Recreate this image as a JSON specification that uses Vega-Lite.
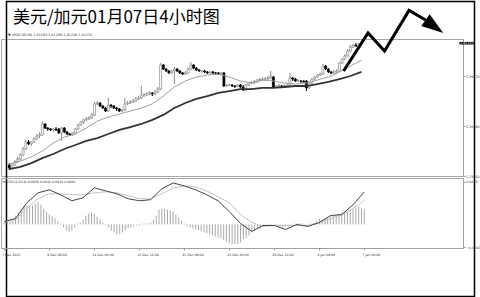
{
"$schema": "https://vega.github.io/schema/vega-lite/v6.json",
"padding": 0,
"background": "white",
"bounds": "flush",
"spacing": 2,
"config": {"view": {"stroke": "#a8a8a8", "strokeWidth": 1}, "axis": {"labelFont": "DejaVu Sans", "grid": false}},
"datasets": {
"candles": [
{"i":0,"o":1.3369,"h":1.3381,"l":1.3338,"c":1.3350,"hist":0.00036},
{"i":1,"o":1.3350,"h":1.3375,"l":1.3344,"c":1.3369,"hist":0.00036},
{"i":2,"o":1.3369,"h":1.3400,"l":1.3363,"c":1.3388,"hist":0.00054},
{"i":3,"o":1.3388,"h":1.3419,"l":1.3381,"c":1.3406,"hist":0.00072},
{"i":4,"o":1.3406,"h":1.3443,"l":1.3400,"c":1.3431,"hist":0.00163},
{"i":5,"o":1.3431,"h":1.3480,"l":1.3425,"c":1.3468,"hist":0.00217},
{"i":6,"o":1.3468,"h":1.3524,"l":1.3462,"c":1.3511,"hist":0.0029},
{"i":7,"o":1.3511,"h":1.3524,"l":1.3493,"c":1.3499,"hist":0.00326},
{"i":8,"o":1.3499,"h":1.3518,"l":1.3487,"c":1.3511,"hist":0.00326},
{"i":9,"o":1.3511,"h":1.3542,"l":1.3505,"c":1.3530,"hist":0.00326},
{"i":10,"o":1.3530,"h":1.3561,"l":1.3524,"c":1.3549,"hist":0.00344},
{"i":11,"o":1.3549,"h":1.3573,"l":1.3536,"c":1.3555,"hist":0.0038},
{"i":12,"o":1.3555,"h":1.3641,"l":1.3549,"c":1.3623,"hist":0.00416},
{"i":13,"o":1.3623,"h":1.3629,"l":1.3592,"c":1.3598,"hist":0.00362},
{"i":14,"o":1.3598,"h":1.3604,"l":1.3580,"c":1.3592,"hist":0.0029},
{"i":15,"o":1.3592,"h":1.3598,"l":1.3580,"c":1.3586,"hist":0.00235},
{"i":16,"o":1.3586,"h":1.3598,"l":1.3573,"c":1.3592,"hist":0.00181},
{"i":17,"o":1.3592,"h":1.3604,"l":1.3580,"c":1.3586,"hist":0.00145},
{"i":18,"o":1.3592,"h":1.3598,"l":1.3561,"c":1.3567,"hist":0.00109},
{"i":19,"o":1.3567,"h":1.3604,"l":1.3518,"c":1.3598,"hist":0.00054},
{"i":20,"o":1.3598,"h":1.3604,"l":1.3567,"c":1.3573,"hist":0.00018},
{"i":21,"o":1.3573,"h":1.3580,"l":1.3555,"c":1.3561,"hist":-0.00054},
{"i":22,"o":1.3561,"h":1.3567,"l":1.3549,"c":1.3555,"hist":-0.00109},
{"i":23,"o":1.3555,"h":1.3573,"l":1.3549,"c":1.3567,"hist":-0.00127},
{"i":24,"o":1.3567,"h":1.3598,"l":1.3561,"c":1.3592,"hist":-0.00109},
{"i":25,"o":1.3592,"h":1.3623,"l":1.3586,"c":1.3617,"hist":-0.00054},
{"i":26,"o":1.3617,"h":1.3641,"l":1.3610,"c":1.3635,"hist":0.00018},
{"i":27,"o":1.3635,"h":1.3654,"l":1.3623,"c":1.3648,"hist":0.00036},
{"i":28,"o":1.3648,"h":1.3666,"l":1.3641,"c":1.3654,"hist":0.00091},
{"i":29,"o":1.3654,"h":1.3672,"l":1.3648,"c":1.3660,"hist":0.00163},
{"i":30,"o":1.3660,"h":1.3691,"l":1.3654,"c":1.3679,"hist":0.00199},
{"i":31,"o":1.3679,"h":1.3759,"l":1.3672,"c":1.3747,"hist":0.00217},
{"i":32,"o":1.3747,"h":1.3765,"l":1.3740,"c":1.3753,"hist":0.00199},
{"i":33,"o":1.3753,"h":1.3759,"l":1.3728,"c":1.3734,"hist":0.00145},
{"i":34,"o":1.3734,"h":1.3740,"l":1.3716,"c":1.3722,"hist":0.00091},
{"i":35,"o":1.3722,"h":1.3728,"l":1.3697,"c":1.3703,"hist":0.00036},
{"i":36,"o":1.3703,"h":1.3784,"l":1.3697,"c":1.3740,"hist":-0.00018},
{"i":37,"o":1.3740,"h":1.3747,"l":1.3722,"c":1.3734,"hist":-0.00054},
{"i":38,"o":1.3734,"h":1.3740,"l":1.3716,"c":1.3722,"hist":-0.00109},
{"i":39,"o":1.3722,"h":1.3728,"l":1.3703,"c":1.3716,"hist":-0.00145},
{"i":40,"o":1.3716,"h":1.3722,"l":1.3697,"c":1.3703,"hist":-0.00181},
{"i":41,"o":1.3703,"h":1.3716,"l":1.3697,"c":1.3710,"hist":-0.00163},
{"i":42,"o":1.3710,"h":1.3784,"l":1.3703,"c":1.3747,"hist":-0.00145},
{"i":43,"o":1.3747,"h":1.3765,"l":1.3740,"c":1.3753,"hist":-0.00109},
{"i":44,"o":1.3753,"h":1.3771,"l":1.3747,"c":1.3759,"hist":-0.00072},
{"i":45,"o":1.3759,"h":1.3778,"l":1.3753,"c":1.3765,"hist":-0.00054},
{"i":46,"o":1.3765,"h":1.3790,"l":1.3759,"c":1.3778,"hist":-0.00036},
{"i":47,"o":1.3778,"h":1.3796,"l":1.3771,"c":1.3784,"hist":-0.00018},
{"i":48,"o":1.3784,"h":1.3858,"l":1.3778,"c":1.3802,"hist":-0.00018},
{"i":49,"o":1.3802,"h":1.3815,"l":1.3790,"c":1.3805,"hist":0.00018},
{"i":50,"o":1.3802,"h":1.3821,"l":1.3796,"c":1.3809,"hist":0.00018},
{"i":51,"o":1.3809,"h":1.3827,"l":1.3802,"c":1.3815,"hist":0.00018},
{"i":52,"o":1.3815,"h":1.3821,"l":1.3796,"c":1.3809,"hist":0.00036},
{"i":53,"o":1.3809,"h":1.3833,"l":1.3802,"c":1.3821,"hist":0.00091},
{"i":54,"o":1.3821,"h":1.3852,"l":1.3815,"c":1.3839,"hist":0.00163},
{"i":55,"o":1.3839,"h":1.4000,"l":1.3833,"c":1.3988,"hist":0.00272},
{"i":56,"o":1.3988,"h":1.3994,"l":1.3957,"c":1.3963,"hist":0.0029},
{"i":57,"o":1.3963,"h":1.3969,"l":1.3945,"c":1.3951,"hist":0.0029},
{"i":58,"o":1.3951,"h":1.3957,"l":1.3932,"c":1.3939,"hist":0.00272},
{"i":59,"o":1.3939,"h":1.3957,"l":1.3932,"c":1.3951,"hist":0.00253},
{"i":60,"o":1.3951,"h":1.3976,"l":1.3870,"c":1.3963,"hist":0.00235},
{"i":61,"o":1.3963,"h":1.3969,"l":1.3945,"c":1.3951,"hist":0.00181},
{"i":62,"o":1.3951,"h":1.3957,"l":1.3932,"c":1.3939,"hist":0.00127},
{"i":63,"o":1.3939,"h":1.3945,"l":1.3926,"c":1.3932,"hist":0.00072},
{"i":64,"o":1.3932,"h":1.3951,"l":1.3926,"c":1.3939,"hist":0.00018},
{"i":65,"o":1.3939,"h":1.3969,"l":1.3932,"c":1.3963,"hist":-0.00036},
{"i":66,"o":1.3963,"h":1.4007,"l":1.3957,"c":1.3988,"hist":-0.00054},
{"i":67,"o":1.3988,"h":1.3994,"l":1.3963,"c":1.3969,"hist":-0.00072},
{"i":68,"o":1.3969,"h":1.3976,"l":1.3951,"c":1.3957,"hist":-0.00091},
{"i":69,"o":1.3957,"h":1.3963,"l":1.3945,"c":1.3951,"hist":-0.00109},
{"i":70,"o":1.3951,"h":1.3957,"l":1.3939,"c":1.3953,"hist":-0.00127},
{"i":71,"o":1.3951,"h":1.3957,"l":1.3939,"c":1.3945,"hist":-0.00145},
{"i":72,"o":1.3945,"h":1.3951,"l":1.3932,"c":1.3939,"hist":-0.00163},
{"i":73,"o":1.3939,"h":1.3951,"l":1.3932,"c":1.3945,"hist":-0.00181},
{"i":74,"o":1.3945,"h":1.3951,"l":1.3926,"c":1.3939,"hist":-0.00199},
{"i":75,"o":1.3939,"h":1.3945,"l":1.3926,"c":1.3937,"hist":-0.00217},
{"i":76,"o":1.3939,"h":1.3945,"l":1.3926,"c":1.3932,"hist":-0.00235},
{"i":77,"o":1.3932,"h":1.3945,"l":1.3926,"c":1.3939,"hist":-0.00253},
{"i":78,"o":1.3939,"h":1.3945,"l":1.3852,"c":1.3858,"hist":-0.0029},
{"i":79,"o":1.3858,"h":1.3870,"l":1.3852,"c":1.3864,"hist":-0.00326},
{"i":80,"o":1.3864,"h":1.3870,"l":1.3858,"c":1.3866,"hist":-0.00344},
{"i":81,"o":1.3864,"h":1.3870,"l":1.3852,"c":1.3858,"hist":-0.00362},
{"i":82,"o":1.3858,"h":1.3864,"l":1.3846,"c":1.3856,"hist":-0.00362},
{"i":83,"o":1.3858,"h":1.3870,"l":1.3852,"c":1.3864,"hist":-0.00362},
{"i":84,"o":1.3864,"h":1.3870,"l":1.3846,"c":1.3852,"hist":-0.00326},
{"i":85,"o":1.3852,"h":1.3864,"l":1.3827,"c":1.3833,"hist":-0.00272},
{"i":86,"o":1.3833,"h":1.3870,"l":1.3827,"c":1.3864,"hist":-0.00253},
{"i":87,"o":1.3864,"h":1.3883,"l":1.3858,"c":1.3877,"hist":-0.00199},
{"i":88,"o":1.3877,"h":1.3889,"l":1.3870,"c":1.3879,"hist":-0.00145},
{"i":89,"o":1.3877,"h":1.3895,"l":1.3870,"c":1.3883,"hist":-0.00109},
{"i":90,"o":1.3883,"h":1.3901,"l":1.3877,"c":1.3895,"hist":-0.00091},
{"i":91,"o":1.3895,"h":1.3908,"l":1.3883,"c":1.3897,"hist":-0.00072},
{"i":92,"o":1.3895,"h":1.3914,"l":1.3889,"c":1.3901,"hist":-0.00054},
{"i":93,"o":1.3901,"h":1.3914,"l":1.3889,"c":1.3903,"hist":-0.00036},
{"i":94,"o":1.3901,"h":1.3920,"l":1.3895,"c":1.3908,"hist":-0.00036},
{"i":95,"o":1.3908,"h":1.3951,"l":1.3901,"c":1.3920,"hist":-0.00018},
{"i":96,"o":1.3914,"h":1.3920,"l":1.3846,"c":1.3852,"hist":-0.00018},
{"i":97,"o":1.3852,"h":1.3864,"l":1.3846,"c":1.3858,"hist":-0.00036},
{"i":98,"o":1.3858,"h":1.3870,"l":1.3852,"c":1.3860,"hist":-0.00054},
{"i":99,"o":1.3858,"h":1.3864,"l":1.3846,"c":1.3856,"hist":-0.00054},
{"i":100,"o":1.3858,"h":1.3870,"l":1.3852,"c":1.3860,"hist":-0.00036},
{"i":101,"o":1.3858,"h":1.3877,"l":1.3852,"c":1.3864,"hist":-0.00036},
{"i":102,"o":1.3864,"h":1.3939,"l":1.3858,"c":1.3908,"hist":-0.00018},
{"i":103,"o":1.3908,"h":1.3914,"l":1.3889,"c":1.3901,"hist":0.00018},
{"i":104,"o":1.3901,"h":1.3908,"l":1.3883,"c":1.3889,"hist":0.00018},
{"i":105,"o":1.3889,"h":1.3901,"l":1.3883,"c":1.3891,"hist":0.00018},
{"i":106,"o":1.3889,"h":1.3895,"l":1.3877,"c":1.3887,"hist":0.00018},
{"i":107,"o":1.3889,"h":1.3895,"l":1.3877,"c":1.3883,"hist":-0.00018},
{"i":108,"o":1.3889,"h":1.3895,"l":1.3827,"c":1.3846,"hist":-0.00018},
{"i":109,"o":1.3846,"h":1.3883,"l":1.3839,"c":1.3877,"hist":0.00018},
{"i":110,"o":1.3877,"h":1.3908,"l":1.3870,"c":1.3901,"hist":0.00036},
{"i":111,"o":1.3901,"h":1.3920,"l":1.3895,"c":1.3914,"hist":0.00072},
{"i":112,"o":1.3914,"h":1.3932,"l":1.3908,"c":1.3926,"hist":0.00109},
{"i":113,"o":1.3926,"h":1.3939,"l":1.3920,"c":1.3932,"hist":0.00091},
{"i":114,"o":1.3932,"h":1.3994,"l":1.3926,"c":1.3982,"hist":0.00109},
{"i":115,"o":1.3982,"h":1.3988,"l":1.3957,"c":1.3963,"hist":0.00127},
{"i":116,"o":1.3963,"h":1.3969,"l":1.3939,"c":1.3945,"hist":0.00145},
{"i":117,"o":1.3945,"h":1.3951,"l":1.3932,"c":1.3939,"hist":0.00163},
{"i":118,"o":1.3939,"h":1.3957,"l":1.3932,"c":1.3945,"hist":0.00181},
{"i":119,"o":1.3945,"h":1.3963,"l":1.3939,"c":1.3951,"hist":0.00199},
{"i":120,"o":1.3951,"h":1.4007,"l":1.3945,"c":1.4000,"hist":0.00217},
{"i":121,"o":1.4000,"h":1.4031,"l":1.3994,"c":1.4025,"hist":0.00235},
{"i":122,"o":1.4025,"h":1.4056,"l":1.4019,"c":1.4044,"hist":0.00253},
{"i":123,"o":1.4044,"h":1.4087,"l":1.4038,"c":1.4075,"hist":0.00272},
{"i":124,"o":1.4075,"h":1.4112,"l":1.4069,"c":1.4099,"hist":0.0029},
{"i":125,"o":1.4099,"h":1.4118,"l":1.4093,"c":1.4112,"hist":0.00308},
{"i":126,"o":1.4112,"h":1.4124,"l":1.4099,"c":1.4106,"hist":0.00326},
{"i":127,"o":1.4106,"h":1.4124,"l":1.4093,"c":1.4118,"hist":0.0029},
{"i":128,"o":1.4118,"h":1.4126,"l":1.4110,"c":1.4123,"hist":0.00272}
],
"lines": [
{"i":0,"f":1.3375,"w":1.3344,"m":0.00054,"s":0.00054},
{"i":4,"f":1.3394,"w":1.3357,"m":0.00109,"s":0.00091},
{"i":8,"f":1.3419,"w":1.3381,"m":0.00398,"s":0.0029},
{"i":12,"f":1.3456,"w":1.3412,"m":0.00579,"s":0.00471},
{"i":16,"f":1.3505,"w":1.3437,"m":0.00634,"s":0.00561},
{"i":20,"f":1.3542,"w":1.3468,"m":0.00543,"s":0.00561},
{"i":24,"f":1.3561,"w":1.3493,"m":0.00434,"s":0.00543},
{"i":28,"f":1.3598,"w":1.3518,"m":0.00489,"s":0.00543},
{"i":32,"f":1.3641,"w":1.3536,"m":0.0067,"s":0.00579},
{"i":36,"f":1.3666,"w":1.3561,"m":0.00615,"s":0.00597},
{"i":40,"f":1.3685,"w":1.3586,"m":0.00561,"s":0.00579},
{"i":44,"f":1.3703,"w":1.3604,"m":0.00471,"s":0.00525},
{"i":48,"f":1.3722,"w":1.3623,"m":0.00434,"s":0.00471},
{"i":52,"f":1.3747,"w":1.3648,"m":0.00453,"s":0.00471},
{"i":56,"f":1.3796,"w":1.3679,"m":0.00652,"s":0.00561},
{"i":60,"f":1.3852,"w":1.3722,"m":0.0076,"s":0.0067},
{"i":64,"f":1.3889,"w":1.3753,"m":0.00706,"s":0.00706},
{"i":68,"f":1.3914,"w":1.3778,"m":0.00634,"s":0.00688},
{"i":72,"f":1.3926,"w":1.3796,"m":0.00543,"s":0.00615},
{"i":76,"f":1.3932,"w":1.3815,"m":0.00434,"s":0.00507},
{"i":80,"f":1.3914,"w":1.3827,"m":0.00235,"s":0.00398},
{"i":84,"f":1.3889,"w":1.3839,"m":0.00018,"s":0.00181},
{"i":88,"f":1.3877,"w":1.3839,"m":-0.00127,"s":0.00036},
{"i":92,"f":1.3895,"w":1.3846,"m":-0.00018,"s":-0.00036},
{"i":96,"f":1.3889,"w":1.3846,"m":-0.00018,"s":-0.00018},
{"i":100,"f":1.3877,"w":1.3852,"m":-0.00091,"s":-0.00018},
{"i":104,"f":1.3870,"w":1.3858,"m":0,"s":-0.00018},
{"i":108,"f":1.3877,"w":1.3858,"m":-0.00036,"s":-0.00018},
{"i":112,"f":1.3895,"w":1.3870,"m":0.00036,"s":0.00036},
{"i":116,"f":1.3914,"w":1.3883,"m":0.00163,"s":0.00109},
{"i":120,"f":1.3945,"w":1.3901,"m":0.00181,"s":0.00181},
{"i":124,"f":1.3982,"w":1.3920,"m":0.00362,"s":0.0029},
{"i":128,"f":1.4019,"w":1.3945,"m":0.00597,"s":0.00434}
],
"arrow": [
{"k":0,"ax":121.5,"ay":1.3951},
{"k":1,"ax":130.4,"ay":1.4186},
{"k":2,"ax":136.4,"ay":1.4075},
{"k":3,"ax":145.3,"ay":1.4326},
{"k":4,"ax":151.3,"ay":1.4267}
],
"head": [{"ax":154.5,"ay":1.4226}],
"bid": [{"x1":163.6,"x2":169.2,"y1":1.4115,"y2":1.4131,"ym":1.4123,"t":"1.41232"}],
"frame": [{"x1":-1.02,"x2":169.1,"y1":1.4381,"y2":1.2555}],
"texts": [
{"x":1.3,"y":1.4329,"t":"美元/加元01月07日4小时图","kind":"title"},
{"x":-0.5,"y":1.4160,"t":"▼ USDCAD,H4  1.41243 1.41256 1.41248 1.41232","kind":"header"}
],
"macdlabel": [{"x":-1.2,"y":0.0085,"t":"MACD(12,26,9) 0.0058 0.0046 0.0024 0.0000"}]
},
"vconcat": [
{
"width": 462, "height": 137,
"layer": [
{"data": {"name": "frame"}, "mark": {"type": "rect", "fill": "#ffffff", "fillOpacity": 0, "stroke": "#000000", "strokeWidth": 1.5, "clip": false},
 "encoding": {
  "x": {"field": "x1", "type": "quantitative", "scale": {"domain": [-1.2, 163.1], "nice": false}, "axis": null},
  "x2": {"field": "x2"},
  "y": {"field": "y1", "type": "quantitative", "scale": {"domain": [1.3301, 1.4149], "nice": false, "zero": false},
        "axis": {"orient": "right", "title": null, "values": [1.4149, 1.4075, 1.3996, 1.3917, 1.3841, 1.3763, 1.3687, 1.3609, 1.3531, 1.3455, 1.3377, 1.3301], "format": ".5f", "labelFontSize": 3.3, "labelColor": "#333", "tickSize": 2, "tickColor": "#999", "domainColor": "#a0a0a0", "labelPadding": 0.5, "labelFlush": false, "labelOverlap": false}},
  "y2": {"field": "y2"}
 }},
{"data": {"name": "candles"}, "mark": {"type": "rule", "strokeWidth": 1},
 "encoding": {
  "x": {"field": "i", "type": "quantitative", "scale": {"domain": [-1.2, 163.1], "nice": false}},
  "y": {"field": "l", "type": "quantitative", "scale": {"domain": [1.3301, 1.4149], "nice": false, "zero": false}},
  "y2": {"field": "h"},
  "color": {"condition": {"test": "datum.c < datum.o", "value": "#000000"}, "value": "#8a8a8a"}
 }},
{"data": {"name": "candles"}, "mark": {"type": "bar", "size": 2, "strokeWidth": 0.7},
 "encoding": {
  "x": {"field": "i", "type": "quantitative", "scale": {"domain": [-1.2, 163.1], "nice": false}},
  "y": {"field": "o", "type": "quantitative", "scale": {"domain": [1.3301, 1.4149], "nice": false, "zero": false}},
  "y2": {"field": "c"},
  "fill": {"condition": {"test": "datum.c < datum.o", "value": "#000000"}, "value": "#ffffff"},
  "stroke": {"condition": {"test": "datum.c < datum.o", "value": "#000000"}, "value": "#8a8a8a"}
 }},
{"data": {"name": "lines"}, "mark": {"type": "line", "color": "#a0a0a0", "strokeWidth": 1},
 "encoding": {
  "x": {"field": "i", "type": "quantitative", "scale": {"domain": [-1.2, 163.1], "nice": false}},
  "y": {"field": "f", "type": "quantitative", "scale": {"domain": [1.3301, 1.4149], "nice": false, "zero": false}}
 }},
{"data": {"name": "lines"}, "mark": {"type": "line", "color": "#333333", "strokeWidth": 1.8},
 "encoding": {
  "x": {"field": "i", "type": "quantitative", "scale": {"domain": [-1.2, 163.1], "nice": false}},
  "y": {"field": "w", "type": "quantitative", "scale": {"domain": [1.3301, 1.4149], "nice": false, "zero": false}}
 }},
{"data": {"name": "arrow"}, "mark": {"type": "line", "color": "#000000", "strokeWidth": 3, "strokeJoin": "miter", "clip": false},
 "encoding": {
  "x": {"field": "ax", "type": "quantitative", "scale": {"domain": [-1.2, 163.1], "nice": false}},
  "y": {"field": "ay", "type": "quantitative", "scale": {"domain": [1.3301, 1.4149], "nice": false, "zero": false}},
  "order": {"field": "k"}
 }},
{"data": {"name": "head"}, "mark": {"type": "point", "shape": "M-1,-0.65L1,0L-1,0.65Z", "filled": true, "color": "#000000", "opacity": 1, "size": 484, "angle": 36, "clip": false},
 "encoding": {
  "x": {"field": "ax", "type": "quantitative", "scale": {"domain": [-1.2, 163.1], "nice": false}},
  "y": {"field": "ay", "type": "quantitative", "scale": {"domain": [1.3301, 1.4149], "nice": false, "zero": false}}
 }},
{"data": {"name": "bid"}, "mark": {"type": "rect", "color": "#000000", "clip": false},
 "encoding": {
  "x": {"field": "x1", "type": "quantitative", "scale": {"domain": [-1.2, 163.1], "nice": false}},
  "x2": {"field": "x2"},
  "y": {"field": "y1", "type": "quantitative", "scale": {"domain": [1.3301, 1.4149], "nice": false, "zero": false}},
  "y2": {"field": "y2"}
 }},
{"data": {"name": "bid"}, "mark": {"type": "text", "color": "#ffffff", "font": "DejaVu Sans", "fontSize": 3.3, "align": "left", "baseline": "middle", "dx": 0.5, "clip": false},
 "encoding": {
  "x": {"field": "x1", "type": "quantitative", "scale": {"domain": [-1.2, 163.1], "nice": false}},
  "y": {"field": "ym", "type": "quantitative", "scale": {"domain": [1.3301, 1.4149], "nice": false, "zero": false}},
  "text": {"field": "t"}
 }},
{"data": {"name": "texts"}, "transform": [{"filter": "datum.kind == 'title'"}],
 "mark": {"type": "text", "color": "#000000", "font": "Noto Sans CJK SC", "fontSize": 17, "align": "left", "baseline": "top", "clip": false},
 "encoding": {
  "x": {"field": "x", "type": "quantitative", "scale": {"domain": [-1.2, 163.1], "nice": false}},
  "y": {"field": "y", "type": "quantitative", "scale": {"domain": [1.3301, 1.4149], "nice": false, "zero": false}},
  "text": {"field": "t"}
 }},
{"data": {"name": "texts"}, "transform": [{"filter": "datum.kind == 'header'"}],
 "mark": {"type": "text", "color": "#333333", "font": "DejaVu Sans", "fontSize": 3.4, "align": "left", "baseline": "bottom", "clip": false},
 "encoding": {
  "x": {"field": "x", "type": "quantitative", "scale": {"domain": [-1.2, 163.1], "nice": false}},
  "y": {"field": "y", "type": "quantitative", "scale": {"domain": [1.3301, 1.4149], "nice": false, "zero": false}},
  "text": {"field": "t"}
 }}
]
},
{
"width": 462, "height": 70,
"layer": [
{"data": {"name": "candles"}, "mark": {"type": "rule", "strokeWidth": 1, "color": "#a8a8a8"},
 "encoding": {
  "x": {"field": "i", "type": "quantitative", "scale": {"domain": [-1.2, 163.1], "nice": false},
        "axis": {"title": null, "values": [0,8,16,24,32,40,48,56,64,72,80,88,96,104,112,120,128], "labelExpr": "['7 Dec 2015','8 Dec 00:00','9 Dec 08:00','10 Dec 16:00','14 Dec 00:00','15 Dec 08:00','16 Dec 16:00','18 Dec 00:00','21 Dec 08:00','22 Dec 16:00','24 Dec 00:00','28 Dec 08:00','29 Dec 16:00','31 Dec 00:00','4 Jan 08:00','5 Jan 16:00','7 Jan 00:00'][round(datum.value/8)]", "labelAlign": "left", "labelOffset": -2.6, "labelFontSize": 3.2, "labelColor": "#333", "tickSize": 2, "tickColor": "#999", "domainColor": "#a0a0a0", "labelPadding": 2, "labelFlush": false, "labelOverlap": false}},
  "y": {"field": "hist", "type": "quantitative", "scale": {"domain": [-0.0043, 0.0085], "nice": false, "zero": false},
        "axis": {"orient": "right", "title": null, "values": [0.0078, 0, -0.0042], "labelExpr": "datum.value == 0 ? '0.00' : format(datum.value, '.4f')", "labelFontSize": 3.3, "labelColor": "#333", "tickSize": 2, "tickColor": "#999", "domainColor": "#a0a0a0", "labelPadding": 0.5, "labelFlush": false, "labelOverlap": false}},
  "y2": {"datum": 0}
 }},
{"data": {"name": "lines"}, "mark": {"type": "line", "color": "#c4c4c4", "strokeWidth": 1},
 "encoding": {
  "x": {"field": "i", "type": "quantitative", "scale": {"domain": [-1.2, 163.1], "nice": false}},
  "y": {"field": "s", "type": "quantitative", "scale": {"domain": [-0.0043, 0.0085], "nice": false, "zero": false}}
 }},
{"data": {"name": "lines"}, "mark": {"type": "line", "color": "#444444", "strokeWidth": 1},
 "encoding": {
  "x": {"field": "i", "type": "quantitative", "scale": {"domain": [-1.2, 163.1], "nice": false}},
  "y": {"field": "m", "type": "quantitative", "scale": {"domain": [-0.0043, 0.0085], "nice": false, "zero": false}}
 }},
{"data": {"name": "macdlabel"}, "mark": {"type": "text", "color": "#333", "font": "DejaVu Sans", "fontSize": 3.2, "align": "left", "baseline": "top", "dx": 1.5, "dy": 1.5},
 "encoding": {
  "x": {"field": "x", "type": "quantitative", "scale": {"domain": [-1.2, 163.1], "nice": false}},
  "y": {"field": "y", "type": "quantitative", "scale": {"domain": [-0.0043, 0.0085], "nice": false, "zero": false}},
  "text": {"field": "t"}
 }}
]
}
]
}
